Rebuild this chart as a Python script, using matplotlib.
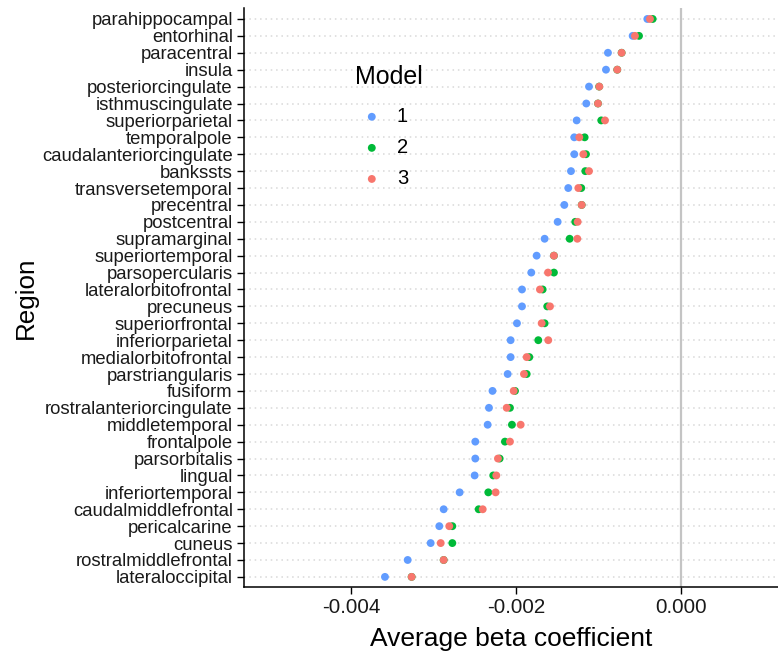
import matplotlib.pyplot as plt
import numpy as np

plt.rcParams['font.family'] = ['Liberation Sans', 'DejaVu Sans']

regions = ['parahippocampal', 'entorhinal', 'paracentral', 'insula', 'posteriorcingulate',
           'isthmuscingulate', 'superiorparietal', 'temporalpole', 'caudalanteriorcingulate',
           'bankssts', 'transversetemporal', 'precentral', 'postcentral', 'supramarginal',
           'superiortemporal', 'parsopercularis', 'lateralorbitofrontal', 'precuneus',
           'superiorfrontal', 'inferiorparietal', 'medialorbitofrontal', 'parstriangularis',
           'fusiform', 'rostralanteriorcingulate', 'middletemporal', 'frontalpole',
           'parsorbitalis', 'lingual', 'inferiortemporal', 'caudalmiddlefrontal',
           'pericalcarine', 'cuneus', 'rostralmiddlefrontal', 'lateraloccipital']

model1 = [-0.000405, -0.000583, -0.000883, -0.000907, -0.001113, -0.001146, -0.001263,
          -0.001292, -0.001292, -0.001332, -0.001365, -0.001413, -0.001494, -0.001652,
          -0.001749, -0.001814, -0.001927, -0.001927, -0.001988, -0.002065, -0.002065,
          -0.002101, -0.002285, -0.002328, -0.002344, -0.002494, -0.002494, -0.002502,
          -0.002684, -0.002878, -0.002931, -0.003036, -0.003315, -0.003591]
model2 = [-0.000340, -0.000506, -0.000717, -0.000770, -0.000990, -0.001004, -0.000964,
          -0.001166, -0.001150, -0.001158, -0.001207, -0.001202, -0.001280, -0.001348,
          -0.001539, -0.001539, -0.001676, -0.001620, -0.001652, -0.001729, -0.001838,
          -0.001870, -0.002012, -0.002073, -0.002049, -0.002134, -0.002198, -0.002276,
          -0.002336, -0.002453, -0.002773, -0.002773, -0.002878, -0.003267]
model3 = [-0.000373, -0.000555, -0.000717, -0.000770, -0.000988, -0.001004, -0.000919,
          -0.001231, -0.001182, -0.001113, -0.001243, -0.001202, -0.001251, -0.001255,
          -0.001539, -0.001611, -0.001709, -0.001587, -0.001688, -0.001608, -0.001870,
          -0.001903, -0.002028, -0.002113, -0.001943, -0.002073, -0.002219, -0.002239,
          -0.002247, -0.002404, -0.002810, -0.002914, -0.002878, -0.003267]

models = ['1', '2', '3']
colors = ['#619CFF', '#00BA38', '#F8766D']

fig = plt.figure(figsize=(7.78, 6.54), dpi=100)
ax = fig.add_axes([0.3136, 0.1024, 0.6864, 0.8854])

y = np.arange(len(regions))
for yy in y:
    ax.axhline(yy, color='#d8d8d8', linestyle=(0, (1, 2.5)), linewidth=1.1, zorder=0)
ax.axvline(0, color='#c4c4c4', linewidth=1.6, zorder=1)

for vals, col, lab in zip([model1, model2, model3], colors, models):
    ax.scatter(vals, y, s=32, color=col, edgecolors='none', label=lab, zorder=3)

ax.set_yticks(y)
ax.set_yticklabels(regions, fontsize=13.3, color='#1a1a1a')
ax.set_ylim(len(regions) - 0.4, -0.65)
ax.set_xlim(-0.005303, 0.001182)
ax.set_xticks([-0.004, -0.002, 0.0])
ax.set_xticklabels(['-0.004', '-0.002', '0.000'], fontsize=14.8, color='#1a1a1a')
ax.tick_params(axis='both', length=5, width=1, color='black')
ax.tick_params(axis='y', pad=3)
ax.tick_params(axis='x', pad=3)

for side in ['top', 'right']:
    ax.spines[side].set_visible(False)
for side in ['left', 'bottom']:
    ax.spines[side].set_linewidth(1.1)
    ax.spines[side].set_color('black')

ax.set_xlabel('Average beta coefficient', fontsize=19, labelpad=7)
ax.set_ylabel('Region', fontsize=18.7, labelpad=3)

# legend title drawn separately so the gap to the entries can be matched
fig.text(355 / 778, 1 - 77 / 654, 'Model', fontsize=18, ha='left', va='center')
ax.legend(loc='upper left', bbox_to_anchor=(0.452, 1 - 97 / 654),
          bbox_transform=fig.transFigure, frameon=False, fontsize=14.5,
          handlelength=1.0, handletextpad=0.75, labelspacing=0.6,
          borderpad=0, markerscale=1.0)

fig.savefig('out.png', dpi=100)
